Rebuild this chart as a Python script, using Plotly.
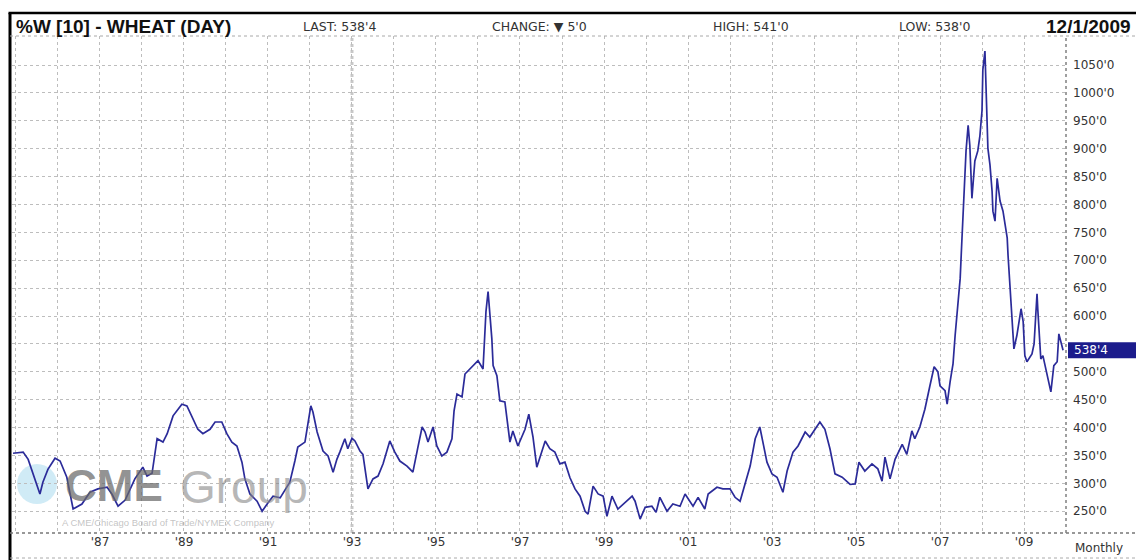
import plotly.graph_objects as go

# ---------------- data ----------------
years = [
    1984.93, 1985.17, 1985.29, 1985.40, 1985.57, 1985.64, 1985.76, 1985.93,
    1986.05, 1986.21, 1986.36, 1986.57, 1986.76, 1986.95,
    1987.17, 1987.29, 1987.43, 1987.60, 1987.83,
    1988.02, 1988.12, 1988.24, 1988.36, 1988.50, 1988.60, 1988.74, 1988.95,
    1989.07, 1989.19, 1989.33, 1989.45, 1989.62, 1989.74, 1989.90,
    1990.02, 1990.14, 1990.26, 1990.38, 1990.45, 1990.57, 1990.74, 1990.86, 1990.98,
    1991.12, 1991.29, 1991.45, 1991.52, 1991.64, 1991.71, 1991.88, 1991.93,
    1992.02, 1992.07, 1992.17, 1992.31, 1992.43, 1992.55, 1992.64, 1992.71, 1992.83, 1992.90,
    1993.00, 1993.07, 1993.19, 1993.26, 1993.38, 1993.50, 1993.62, 1993.74, 1993.90,
    1994.02, 1994.14, 1994.31, 1994.45, 1994.57, 1994.67, 1994.74, 1994.81, 1994.93,
    1995.02, 1995.14, 1995.26, 1995.38, 1995.43, 1995.50, 1995.62, 1995.69, 1995.86,
    1996.00, 1996.12, 1996.19, 1996.24, 1996.29, 1996.33, 1996.36, 1996.45, 1996.52,
    1996.64, 1996.76, 1996.83, 1996.95,
    1997.12, 1997.21, 1997.31, 1997.40, 1997.52, 1997.60, 1997.71, 1997.83, 1997.95,
    1998.07, 1998.19, 1998.31, 1998.43, 1998.55, 1998.62, 1998.74, 1998.86, 1998.98,
    1999.07, 1999.19, 1999.33, 1999.50, 1999.67, 1999.74, 1999.86, 1999.98,
    2000.14, 2000.24, 2000.33, 2000.50, 2000.64, 2000.81, 2000.93,
    2001.12, 2001.24, 2001.40, 2001.48, 2001.69, 2001.83,
    2002.00, 2002.12, 2002.24, 2002.36, 2002.48, 2002.60, 2002.71, 2002.88,
    2003.00, 2003.12, 2003.26, 2003.36, 2003.50, 2003.62, 2003.79, 2003.90,
    2004.14, 2004.26, 2004.38, 2004.50, 2004.67, 2004.86, 2004.98,
    2005.07, 2005.21, 2005.38, 2005.52, 2005.62, 2005.69, 2005.81, 2005.93,
    2006.10, 2006.21, 2006.33, 2006.40, 2006.52, 2006.64, 2006.76, 2006.86, 2006.95,
    2007.00, 2007.12, 2007.17, 2007.24, 2007.31, 2007.36, 2007.43, 2007.48, 2007.52,
    2007.57, 2007.62, 2007.67, 2007.71, 2007.76, 2007.79, 2007.83, 2007.90, 2007.95,
    2008.00, 2008.02, 2008.07, 2008.12, 2008.14, 2008.19, 2008.24, 2008.26, 2008.31, 2008.36,
    2008.43, 2008.50, 2008.60, 2008.62, 2008.67, 2008.71, 2008.76, 2008.83, 2008.93, 2008.98,
    2009.02, 2009.07, 2009.19, 2009.24, 2009.31, 2009.33, 2009.40, 2009.45, 2009.55, 2009.64,
    2009.71, 2009.79, 2009.83, 2009.90, 2009.93,
]

prices = [
    354, 356, 343, 320, 281, 302, 325, 345,
    340, 311, 254, 263, 284, 290,
    293, 280, 259, 270, 308,
    329, 313, 318, 380, 374, 389, 421, 442,
    439, 419, 397, 389, 397, 410, 410,
    389, 374, 367, 338, 308, 281, 268, 250, 263,
    277, 274, 293, 302, 340, 365, 374, 397,
    439, 428, 392, 358, 349, 320, 343, 356, 380, 362,
    381, 376, 358, 352, 290, 308, 313, 335, 376,
    356, 340, 331, 320, 365, 401, 392, 374, 401,
    367, 349, 356, 380, 430, 460, 455, 496, 509,
    520, 505, 608, 644, 601, 559, 511, 493, 448,
    446, 374, 394, 367,
    397, 424, 383, 329, 356, 376, 362, 356, 335,
    338, 310, 290, 277, 250, 245, 295, 281, 277,
    241, 277, 254, 266, 277, 268, 236, 257,
    259, 248, 275, 250, 263, 259, 281,
    259, 275, 254, 281, 293, 290,
    290, 275, 268, 299, 331, 380, 401, 338,
    317, 311, 284, 322, 356, 367, 392, 383,
    410, 397, 362, 317, 311, 298, 299,
    338, 322, 335, 326, 304, 347, 308, 343,
    370, 352, 394, 380, 401, 433, 475, 509, 500,
    475, 466, 442, 482, 514, 565, 619, 667, 734,
    811, 896, 942, 906, 811, 847, 878, 896, 923,
    968, 1041, 1075, 973, 901, 871, 824, 788, 770, 847,
    806, 788, 740, 709, 653, 600, 541, 565, 613, 590,
    529, 518, 532, 550, 640, 610, 523, 529, 493, 464,
    511, 518, 568, 547, 538.5,
]
assert len(years) == len(prices)

grid_years = list(range(1985, 2010))
x_label_years = [1987, 1989, 1991, 1993, 1995, 1997, 1999, 2001, 2003, 2005, 2007, 2009]
x_label_text = ["'87", "'89", "'91", "'93", "'95", "'97", "'99", "'01", "'03", "'05", "'07", "'09"]
y_tick_values = [250, 300, 350, 400, 450, 500, 550, 600, 650, 700, 750, 800, 850, 900, 950, 1000, 1050]
y_tick_text = ["250'0", "300'0", "350'0", "400'0", "450'0", "500'0", "", "600'0", "650'0",
               "700'0", "750'0", "800'0", "850'0", "900'0", "950'0", "1000'0", "1050'0"]
last_price = 538.5
last_label = "538'4"
header_title = "%W [10] - WHEAT (DAY)"
header_last = "LAST: 538'4"
header_change = "CHANGE: \u25BC 5'0"
header_high = "HIGH: 541'0"
header_low = "LOW: 538'0"
header_date = "12/1/2009"
period_label = "Monthly"

# ---------------- layout helpers (pixel -> paper) ----------------
W, H = 1136, 560
L, R, T, B = 12, 70, 36, 27
PW, PH = W - L - R, H - T - B


def px(x):
    return (x - L) / PW


def py(y):
    return (H - B - y) / PH


x_tickvals = grid_years
x_ticktext = [x_label_text[x_label_years.index(y)] if y in x_label_years else "" for y in grid_years]

fig = go.Figure()
fig.add_trace(go.Scatter(
    x=years, y=prices, mode="lines",
    line=dict(color="#2b2b99", width=1.7),
    hoverinfo="x+y", showlegend=False,
))

axis_font = dict(family="DejaVu Sans, Arial, sans-serif", size=12, color="#333333")

fig.update_layout(
    width=W, height=H,
    margin=dict(l=L, r=R, t=T, b=B),
    paper_bgcolor="white", plot_bgcolor="white",
    showlegend=False,
    xaxis=dict(
        range=[1984.905, 2010.0],
        tickvals=x_tickvals, ticktext=x_ticktext,
        showgrid=True, gridcolor="#bdbdbd", griddash="dot", gridwidth=1,
        zeroline=False, showline=False, ticks="",
        tickfont=axis_font, fixedrange=True,
    ),
    yaxis=dict(
        range=[211, 1102], side="right",
        tickvals=y_tick_values, ticktext=y_tick_text,
        showgrid=True, gridcolor="#bdbdbd", griddash="dot", gridwidth=1,
        zeroline=False, showline=False, ticks="",
        ticklabelstandoff=6,
        tickfont=axis_font, fixedrange=True,
    ),
    font=dict(family="DejaVu Sans, Arial, sans-serif"),
)

shapes = []
# heavier 1993 grid line
shapes.append(dict(type="line", xref="x", yref="paper", x0=1993, x1=1993, y0=0, y1=1,
                   line=dict(color="#c8c8c8", width=3, dash="dot"), layer="below"))
# frame lines
shapes.append(dict(type="line", xref="paper", yref="paper", x0=px(8.5), x1=px(1136), y0=py(13), y1=py(13),
                   line=dict(color="black", width=2.5)))
shapes.append(dict(type="line", xref="paper", yref="paper", x0=px(10), x1=px(10), y0=py(13), y1=py(560),
                   line=dict(color="black", width=3)))
shapes.append(dict(type="line", xref="paper", yref="paper", x0=px(10), x1=px(1136), y0=1, y1=1,
                   line=dict(color="#a8a8a8", width=1, dash="dot")))
shapes.append(dict(type="line", xref="paper", yref="paper", x0=px(10), x1=px(1136), y0=0, y1=0,
                   line=dict(color="#777777", width=1.5, dash="dot")))
shapes.append(dict(type="line", xref="paper", yref="paper", x0=px(10), x1=px(1136), y0=py(558), y1=py(558),
                   line=dict(color="#aaaaaa", width=1, dash="dot")))
shapes.append(dict(type="line", xref="paper", yref="paper", x0=1, x1=1, y0=0, y1=1,
                   line=dict(color="#808080", width=1.5, dash="dot")))
# globe of the watermark logo
shapes.append(dict(type="circle", xref="paper", yref="paper",
                   x0=px(17), x1=px(57), y0=py(504), y1=py(464),
                   fillcolor="rgba(150,210,235,0.45)", line=dict(width=0), layer="below"))
# last price tag
shapes.append(dict(type="rect", xref="paper", yref="y", x0=px(1068), x1=px(1136),
                   y0=last_price - 14.3, y1=last_price + 14.3,
                   fillcolor="#1c1c8c", line=dict(width=0)))
fig.update_layout(shapes=shapes)

hdr_y = py(26)
small = dict(family="DejaVu Sans, Arial, sans-serif", size=12.5, color="#333333")
ann = [
    dict(text=header_title, x=px(14), y=hdr_y,
         font=dict(family="Liberation Sans, Arial, sans-serif", size=19, color="#111111", weight="bold")),
    dict(text=header_last, x=px(301), y=hdr_y, font=small),
    dict(text=header_change, x=px(490), y=hdr_y, font=small),
    dict(text=header_high, x=px(711), y=hdr_y, font=small),
    dict(text=header_low, x=px(897), y=hdr_y, font=small),
    dict(text=header_date, x=px(1044), y=hdr_y,
         font=dict(family="Liberation Sans, Arial, sans-serif", size=19, color="#111111", weight="bold")),
    dict(text=period_label, x=px(1073), y=py(548), font=axis_font),
    dict(text="CME", x=px(63), y=py(485),
         font=dict(family="Liberation Sans, Arial, sans-serif", size=44, color="rgba(105,105,105,0.72)",
                   weight="bold")),
    dict(text="Group", x=px(178), y=py(487),
         font=dict(family="Liberation Sans, Arial, sans-serif", size=46, color="rgba(135,135,135,0.6)")),
    dict(text="A CME/Chicago Board of Trade/NYMEX Company", x=px(60), y=py(522),
         font=dict(family="Liberation Sans, Arial, sans-serif", size=9.5, color="rgba(170,170,170,0.7)")),
]
annotations = []
for a in ann:
    a.update(xref="paper", yref="paper", xanchor="left", yanchor="middle", showarrow=False)
    annotations.append(a)
annotations.append(dict(text=last_label, xref="paper", yref="y", x=px(1072), y=last_price,
                        xanchor="left", yanchor="middle", showarrow=False,
                        font=dict(family="DejaVu Sans, Arial, sans-serif", size=12, color="white")))
fig.update_layout(annotations=annotations)

fig.write_html("out.html", config={"displayModeBar": False},
               post_script="document.body.style.margin='0';document.body.style.padding='0';")
